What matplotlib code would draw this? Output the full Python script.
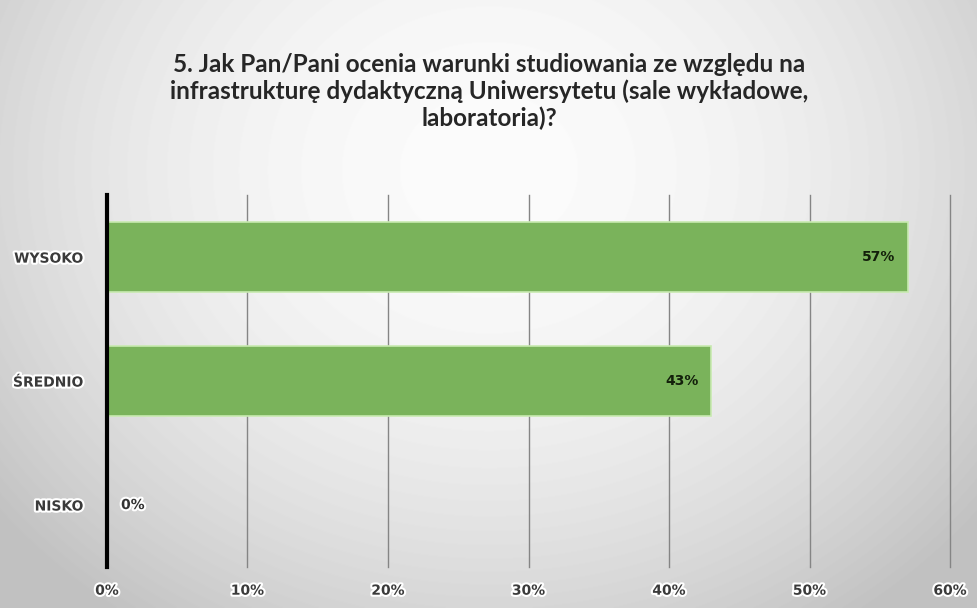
import matplotlib
matplotlib.use("Agg")
import matplotlib.pyplot as plt
import matplotlib.patheffects as pe
import numpy as np

categories = ["NISKO", "ŚREDNIO", "WYSOKO"]
values = [0, 43, 57]
xticks = [0, 10, 20, 30, 40, 50, 60]
title = ("5. Jak Pan/Pani ocenia warunki studiowania ze względu na\n"
         "infrastrukturę dydaktyczną Uniwersytetu (sale wykładowe,\n"
         "laboratoria)?")

plt.rcParams['font.family'] = ['Lato', 'DejaVu Sans']

fig = plt.figure(figsize=(9.78, 6.08), dpi=100)

# radial grey background, smooth falloff
bg = fig.add_axes([0, 0, 1, 1], zorder=-10)
yy, xx = np.mgrid[0:608, 0:978]
r = np.sqrt(((xx - 489) / 620.0) ** 2 + ((yy - 170) / 540.0) ** 2)
shade = np.clip(0.985 - 0.22 * r ** 2, 0.76, 1.0)
bg.imshow(shade, cmap="gray", vmin=0, vmax=1, aspect="auto", extent=[0, 1, 0, 1])
bg.set_axis_off()

ax = fig.add_axes([0.1094, 0.0674, 0.862, 0.6116])
ax.patch.set_alpha(0)

glow = [pe.withStroke(linewidth=3, foreground="white")]
tick_font = dict(family="DejaVu Sans", size=10, weight="bold")

ypos = np.arange(len(categories))
ax.barh(ypos, values, height=0.57, color="#7ab35b", edgecolor="#c8eab0",
        linewidth=1.2, zorder=3)

for y, v in zip(ypos, values):
    if v > 0:
        ax.text(v - 0.9, y, f"{v}%", ha="right", va="center",
                color="#13200b", zorder=4, **tick_font)
    else:
        ax.text(v + 1.0, y, f"{v}%", ha="left", va="center",
                color="#333333", path_effects=glow, zorder=4, **tick_font)

ax.set_xlim(0, 60)
ax.set_ylim(-0.5, 2.5)
ax.set_xticks(xticks)
ax.set_xticklabels([f"{t}%" for t in xticks])
ax.set_yticks(ypos)
ax.set_yticklabels(categories)
for lab in ax.get_xticklabels() + ax.get_yticklabels():
    lab.set_fontfamily("DejaVu Sans")
    lab.set_fontsize(10)
    lab.set_fontweight("bold")
    lab.set_color("#3a3a3a")
    lab.set_path_effects(glow)

ax.tick_params(axis="both", length=0)
ax.tick_params(axis="x", pad=12)
ax.tick_params(axis="y", pad=17)
ax.xaxis.grid(True, color="#858585", linewidth=1.0, zorder=0)
for gl in ax.get_xgridlines():
    gl.set_clip_on(False)
ax.set_axisbelow(True)
for s in ["top", "right", "bottom"]:
    ax.spines[s].set_visible(False)
ax.spines["left"].set_linewidth(3)
ax.spines["left"].set_color("black")
ax.spines["left"].set_zorder(5)

fig.text(0.5, 0.849, title, ha="center", va="center", fontsize=17.5,
         fontweight="bold", color="#262626", linespacing=1.18)

fig.savefig("out.png", dpi=100)
